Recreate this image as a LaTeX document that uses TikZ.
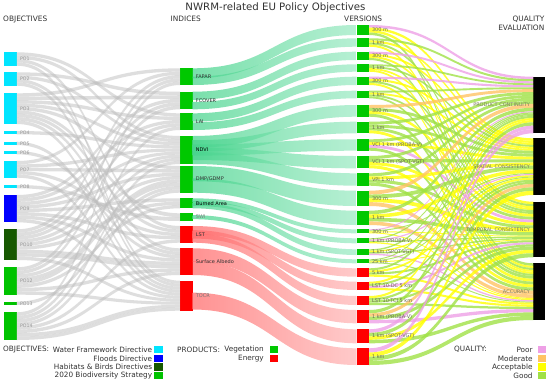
\documentclass[tikz,border=0pt]{standalone}
\usepackage{fontspec}
\setmainfont{DejaVu Sans}
\usetikzlibrary{calc}
\definecolor{wfd}{RGB}{0,229,255}
\definecolor{fdc}{RGB}{0,0,255}
\definecolor{hbd}{RGB}{22,88,0}
\definecolor{bds}{RGB}{0,195,0}
\definecolor{veg}{RGB}{0,200,0}
\definecolor{ene}{RGB}{255,0,0}
\definecolor{qpoor}{RGB}{238,160,230}
\definecolor{qmod}{RGB}{255,195,100}
\definecolor{qacc}{RGB}{255,255,0}
\definecolor{qgood}{RGB}{160,225,70}
\definecolor{mintd}{RGB}{70,212,140}
\definecolor{mintl}{RGB}{155,234,195}
\definecolor{redd}{RGB}{255,105,105}
\definecolor{redl}{RGB}{255,182,182}
\definecolor{graylk}{RGB}{190,190,190}
\definecolor{txtd}{RGB}{50,50,50}
\definecolor{txtv}{RGB}{105,105,85}
\definecolor{txtq}{RGB}{125,125,95}

\tikzset{
  bar/.style={rectangle, inner sep=0pt, outer sep=0pt, minimum width=12.6pt, anchor=north west, draw=none},
  lbl/.style={font=\fontsize{5}{6}\selectfont, inner sep=0pt, outer sep=0pt},
  hdr/.style={font=\fontsize{7.4}{8.5}\selectfont, text=txtd, inner sep=0pt},
  lgt/.style={font=\fontsize{7.3}{8.5}\selectfont, text=txtd, inner sep=0pt},
  lgbox/.style={rectangle, inner sep=0pt, minimum width=8.4pt, minimum height=7.3pt},
  graylink/.style={fill=graylk, fill opacity=0.5},
  mintlink/.style={left color=mintd, right color=mintl, fill opacity=0.72},
  redlink/.style={left color=redd, right color=redl, fill opacity=0.72},
  qP/.style={fill=qpoor, fill opacity=0.8},
  qM/.style={fill=qmod, fill opacity=0.8},
  qA/.style={fill=qacc, fill opacity=0.8},
  qG/.style={fill=qgood, fill opacity=0.8},
}

% band between two nodes: src, frac top, frac bottom, tgt, frac top, frac bottom, style
\newcommand\band[7]{%
  \path ($(#1.north east)!#2!(#1.south east)$) coordinate (bAa)
        ($(#1.north east)!#3!(#1.south east)$) coordinate (bAb)
        ($(#4.north west)!#5!(#4.south west)$) coordinate (bBa)
        ($(#4.north west)!#6!(#4.south west)$) coordinate (bBb)
        ($(bAa)!0.5!(bBa)$) coordinate (bM);
  \path[#7] (bAa) .. controls (bM |- bAa) and (bM |- bBa) .. (bBa)
     -- (bBb) .. controls (bM |- bBb) and (bM |- bAb) .. (bAb) -- cycle;
}
\newcommand\setcnt[2]{\expandafter\xdef\csname n@#1\endcsname{#2}\expandafter\xdef\csname k@#1\endcsname{0}}
\newcommand\glink[2]{%
  \edef\ks{\csname k@#1\endcsname}\edef\ns{\csname n@#1\endcsname}%
  \edef\kt{\csname k@#2\endcsname}\edef\nt{\csname n@#2\endcsname}%
  \pgfmathsetmacro\fsa{\ks/\ns}\pgfmathsetmacro\fsb{(\ks+1)/\ns}%
  \pgfmathsetmacro\fta{\kt/\nt}\pgfmathsetmacro\ftb{(\kt+1)/\nt}%
  \band{#1}{\fsa}{\fsb}{#2}{\fta}{\ftb}{graylink}%
  \expandafter\xdef\csname k@#1\endcsname{\the\numexpr\ks+1\relax}%
  \expandafter\xdef\csname k@#2\endcsname{\the\numexpr\kt+1\relax}%
}
\gdef\qcum{0}
\newcommand\vq[6]{%
  \pgfmathsetmacro\qa{\qcum/227.4}\pgfmathsetmacro\qb{(\qcum+#2)/227.4}%
  \band{v#1}{0}{0.25}{pc}{\qa}{\qb}{q#3}%
  \band{v#1}{0.25}{0.5}{sc}{\qa}{\qb}{q#4}%
  \band{v#1}{0.5}{0.75}{tc}{\qa}{\qb}{q#5}%
  \band{v#1}{0.75}{1}{acc}{\qa}{\qb}{q#6}%
  \pgfmathsetmacro\qtmp{\qcum+#2}\xdef\qcum{\qtmp}%
}

\begin{document}
\begin{tikzpicture}[x=1pt,y=-1pt]
\useasboundingbox (0,0) rectangle (550,384);
\fill[white] (0,0) rectangle (550,384);

% ---------- objectives bars
\node[bar, fill=wfd, minimum height=13.4pt] (po1) at (4,52.3) {};
\node[bar, fill=wfd, minimum height=13.4pt] (po2) at (4,72.3) {};
\node[bar, fill=wfd, minimum height=30.7pt] (po3) at (4,93.3) {};
\node[bar, fill=wfd, minimum height=3.3pt] (po4) at (4,131) {};
\node[bar, fill=wfd, minimum height=3.3pt] (po5) at (4,141.7) {};
\node[bar, fill=wfd, minimum height=3.3pt] (po6) at (4,151) {};
\node[bar, fill=wfd, minimum height=16.7pt] (po7) at (4,161) {};
\node[bar, fill=wfd, minimum height=3.3pt] (po8) at (4,185) {};
\node[bar, fill=fdc, minimum height=27.3pt] (po9) at (4,195) {};
\node[bar, fill=hbd, minimum height=30.7pt] (po10) at (4,229.3) {};
\node[bar, fill=bds, minimum height=27.4pt] (po12) at (4,267.3) {};
\node[bar, fill=bds, minimum height=3.3pt] (po13) at (4,301.7) {};
\node[bar, fill=bds, minimum height=27.7pt] (po14) at (4,312.3) {};

% ---------- indices bars
\node[bar, fill=veg, minimum height=16.7pt] (fapar) at (180,68.3) {};
\node[bar, fill=veg, minimum height=17.6pt] (fcover) at (180,91.7) {};
\node[bar, fill=veg, minimum height=16.7pt] (lai) at (180,113.3) {};
\node[bar, fill=veg, minimum height=28pt] (ndvi) at (180,136) {};
\node[bar, fill=veg, minimum height=26.7pt] (dmp) at (180,166) {};
\node[bar, fill=veg, minimum height=10pt] (ba) at (180,198.3) {};
\node[bar, fill=veg, minimum height=7.7pt] (swi) at (180,213.3) {};
\node[bar, fill=ene, minimum height=16.7pt] (lst) at (180,226) {};
\node[bar, fill=ene, minimum height=26.7pt] (alb) at (180,248.3) {};
\node[bar, fill=ene, minimum height=30pt] (tocr) at (180,280.7) {};

% ---------- versions bars
\foreach \n/\t/\h/\c in {1/25/10/veg, 2/38.3/8.4/veg, 3/51.7/8.3/veg, 4/64.3/7.4/veg,
  5/76.7/8.3/veg, 6/90.7/7.6/veg, 7/105/11.7/veg, 8/121.7/11.6/veg, 9/139.3/11.4/veg,
  10/156/12.3/veg, 11/173.3/12.4/veg, 12/190.7/15.3/veg, 13/210.7/14.3/veg,
  14/229.3/4/veg, 15/238.3/5/veg, 16/249.3/5.7/veg, 17/259.3/4/veg,
  18/268.3/8.4/ene, 19/281.7/8.3/ene, 20/296/9/ene, 21/310/13.3/ene,
  22/329.3/14/ene, 23/348.3/16.7/ene}
  \node[bar, fill=\c, minimum width=12.3pt, minimum height=\h pt] (v\n) at (356.7,\t) {};

% ---------- quality bars
\node[bar, fill=black, minimum width=11.7pt, minimum height=56.6pt] (pc) at (533.3,76.7) {};
\node[bar, fill=black, minimum width=11.7pt, minimum height=56.7pt] (sc) at (533.3,138.3) {};
\node[bar, fill=black, minimum width=11.7pt, minimum height=55.6pt] (tc) at (533.3,201.7) {};
\node[bar, fill=black, minimum width=11.7pt, minimum height=56.7pt] (acc) at (533.3,263.3) {};

% ---------- objective -> index links
\setcnt{po1}{4}\setcnt{po2}{4}\setcnt{po3}{9}\setcnt{po4}{1}\setcnt{po5}{1}
\setcnt{po6}{1}\setcnt{po7}{5}\setcnt{po8}{1}\setcnt{po9}{8}\setcnt{po10}{9}
\setcnt{po12}{8}\setcnt{po13}{1}\setcnt{po14}{8}
\setcnt{fapar}{5}\setcnt{fcover}{5}\setcnt{lai}{5}\setcnt{ndvi}{9}\setcnt{dmp}{8}
\setcnt{ba}{3}\setcnt{swi}{2}\setcnt{lst}{5}\setcnt{alb}{8}\setcnt{tocr}{10}
\foreach \t in {lai,ndvi,lst,tocr}{\glink{po1}{\t}}
\foreach \t in {fcover,ndvi,alb,tocr}{\glink{po2}{\t}}
\foreach \t in {fapar,fcover,lai,ndvi,dmp,swi,lst,alb,tocr}{\glink{po3}{\t}}
\glink{po4}{ndvi}
\glink{po5}{tocr}
\glink{po6}{alb}
\foreach \t in {fapar,ndvi,dmp,lst,tocr}{\glink{po7}{\t}}
\glink{po8}{swi}
\foreach \t in {fcover,lai,ndvi,dmp,ba,lst,alb,tocr}{\glink{po9}{\t}}
\foreach \t in {fapar,fcover,lai,ndvi,dmp,ba,alb,alb,tocr}{\glink{po10}{\t}}
\foreach \t in {fapar,fcover,ndvi,dmp,dmp,ba,alb,tocr}{\glink{po12}{\t}}
\glink{po13}{dmp}
\foreach \t in {fapar,lai,ndvi,dmp,lst,alb,tocr,tocr}{\glink{po14}{\t}}

% ---------- index -> version links
\band{fapar}{0}{0.6}{v1}{0}{1}{mintlink}
\band{fapar}{0.5}{1}{v2}{0}{1}{mintlink}
\band{fcover}{0}{0.47}{v3}{0}{1}{mintlink}
\band{fcover}{0.58}{1}{v4}{0}{1}{mintlink}
\band{lai}{0}{0.5}{v5}{0}{1}{mintlink}
\band{lai}{0.54}{1}{v6}{0}{1}{mintlink}
\band{ndvi}{0}{0.42}{v7}{0}{1}{mintlink}
\band{ndvi}{0.15}{0.56}{v8}{0}{1}{mintlink}
\band{ndvi}{0.30}{0.70}{v9}{0}{1}{mintlink}
\band{ndvi}{0.42}{0.86}{v10}{0}{1}{mintlink}
\band{ndvi}{0.57}{1}{v11}{0}{1}{mintlink}
\band{dmp}{0}{0.57}{v12}{0}{1}{mintlink}
\band{dmp}{0.46}{1}{v13}{0}{1}{mintlink}
\band{ba}{0}{0.4}{v14}{0}{1}{mintlink}
\band{ba}{0.25}{0.75}{v15}{0}{1}{mintlink}
\band{ba}{0.43}{1}{v16}{0}{1}{mintlink}
\band{swi}{0.24}{0.76}{v17}{0}{1}{mintlink}
\band{lst}{0}{0.5}{v18}{0}{1}{redlink}
\band{lst}{0.25}{0.75}{v19}{0}{1}{redlink}
\band{lst}{0.46}{1}{v20}{0}{1}{redlink}
\band{alb}{0}{0.5}{v21}{0}{1}{redlink}
\band{alb}{0.48}{1}{v22}{0}{1}{redlink}
\band{tocr}{0.4}{0.96}{v23}{0}{1}{redlink}

% ---------- version -> quality links
\vq{1}{10}{P}{A}{A}{G}
\vq{2}{8.4}{G}{A}{G}{A}
\vq{3}{8.3}{P}{A}{A}{G}
\vq{4}{7.4}{G}{G}{A}{A}
\vq{5}{8.3}{P}{A}{G}{A}
\vq{6}{7.6}{G}{A}{G}{G}
\vq{7}{11.7}{M}{G}{A}{G}
\vq{8}{11.6}{G}{G}{G}{A}
\vq{9}{11.4}{G}{A}{P}{G}
\vq{10}{12.3}{G}{G}{A}{A}
\vq{11}{12.4}{G}{A}{G}{G}
\vq{12}{15.3}{M}{G}{A}{M}
\vq{13}{14.3}{G}{A}{G}{M}
\vq{14}{4}{P}{G}{A}{A}
\vq{15}{5}{G}{P}{G}{A}
\vq{16}{5.7}{G}{A}{G}{P}
\vq{17}{4}{G}{G}{A}{G}
\vq{18}{8.4}{G}{A}{G}{A}
\vq{19}{8.3}{A}{G}{P}{A}
\vq{20}{9}{A}{G}{G}{G}
\vq{21}{13.3}{G}{M}{G}{P}
\vq{22}{14}{P}{G}{A}{G}
\vq{23}{16.7}{P}{A}{G}{G}

% ---------- labels
\foreach \n/\s in {1/PO1,2/PO2,3/PO3,4/PO4,5/PO5,6/PO6,7/PO7,8/PO8,9/PO9,10/PO10,12/PO12,13/PO13,14/PO14}
  \node[lbl, anchor=west, text=gray!80, font=\fontsize{4.7}{5.5}\selectfont] (pol\n) at ([xshift=3.4pt]po\n.east) {\s};

\node[lbl, anchor=west, text=txtd] (faparl) at ([xshift=3.3pt]fapar.east) {FAPAR};
\node[lbl, anchor=west, text=txtd] (fcoverl) at ([xshift=3.3pt]fcover.east) {FCOVER};
\node[lbl, anchor=west, text=txtd] (lail) at ([xshift=3.3pt]lai.east) {LAI};
\node[lbl, anchor=west, text=black] (ndvil) at ([xshift=3.3pt]ndvi.east) {NDVI};
\node[lbl, anchor=west, text=txtd] (dmpl) at ([xshift=3.3pt]dmp.east) {DMP/GDMP};
\node[lbl, anchor=west, text=black] (bal) at ([xshift=3.3pt]ba.east) {Burned Area};
\node[lbl, anchor=west, text=gray] (swil) at ([xshift=3.3pt]swi.east) {SWI};
\node[lbl, anchor=west, text=txtd] (lstl) at ([xshift=3.3pt]lst.east) {LST};
\node[lbl, anchor=west, text=txtd] (albl) at ([xshift=3.3pt]alb.east) {Surface Albedo};
\node[lbl, anchor=west, text=gray!90!black] (tocrl) at ([xshift=3.3pt]tocr.east) {TOCR};

\foreach \n/\s in {1/300 m,2/1 km,3/300 m,4/1 km,5/300 m,6/1 km,7/300 m,8/1 km,
  9/VCI 1 km (PROBA-V),10/VCI 1 km (SPOT-VGT),11/VPI 1 km,12/300 m,13/1 km,14/300 m,
  15/1 km (PROBA-V),16/1 km (SPOT-VGT),17/25 km,18/5 km,19/LST 10-DC 5 km,
  20/LST 10-TCI 5 km,21/1 km (PROBA-V),22/1 km (SPOT-VGT),23/1 km}
  \node[lbl, anchor=west, text=txtv] (vl\n) at ([xshift=3pt]v\n.east) {\s};

\node[lbl, anchor=east, text=txtq] (pcl) at ([xshift=-3.3pt]pc.west) {PRODUCT CONTINUITY};
\node[lbl, anchor=east, text=txtq] (scl) at ([xshift=-3.3pt]sc.west) {SPATIAL CONSISTENCY};
\node[lbl, anchor=east, text=txtq] (tcl) at ([xshift=-3.3pt]tc.west) {TEMPORAL CONSISTENCY};
\node[lbl, anchor=east, text=txtq] (accl) at ([xshift=-3.3pt]acc.west) {ACCURACY};

% ---------- headers
\node[font=\fontsize{10.2}{12}\selectfont, text=txtd, inner sep=0pt] (title) at (275.5,7.5) {NWRM-related EU Policy Objectives};
\node[hdr, anchor=west] (hobj) at (3,19.3) {OBJECTIVES};
\node[hdr, anchor=west] (hind) at (170.5,19.3) {INDICES};
\node[hdr, anchor=west] (hver) at (344,19.3) {VERSIONS};
\node[hdr, anchor=east] (hq1) at (544.5,19.3) {QUALITY};
\node[hdr, anchor=east] (hq2) at (544.5,28.3) {EVALUATION};

% ---------- legends
\node[lgt, anchor=west] (lgo) at (3,349.6) {OBJECTIVES:};
\node[lgt, anchor=east] (lgo1) at (152.3,349.6) {Water Framework Directive};
\node[lgt, anchor=east] (lgo2) at (152.3,358.3) {Floods Directive};
\node[lgt, anchor=east] (lgo3) at (152.3,367) {Habitats \& Birds Directives};
\node[lgt, anchor=east] (lgo4) at (152.3,375.8) {2020 Biodiversity Strategy};
\node[lgbox, fill=wfd] (lbo1) at (158.5,349.6) {};
\node[lgbox, fill=fdc] (lbo2) at (158.5,358.3) {};
\node[lgbox, fill=hbd] (lbo3) at (158.5,367) {};
\node[lgbox, fill=bds] (lbo4) at (158.5,375.8) {};

\node[lgt, anchor=west] (lgp) at (177,349.6) {PRODUCTS:};
\node[lgt, anchor=east] (lgp1) at (264,349.6) {Vegetation};
\node[lgt, anchor=east] (lgp2) at (264,358.3) {Energy};
\node[lgbox, fill=veg] (lbp1) at (274.2,349.6) {};
\node[lgbox, fill=ene] (lbp2) at (274.2,358.3) {};

\node[lgt, anchor=west] (lgq) at (454,349.6) {QUALITY:};
\node[lgt, anchor=east] (lgq1) at (532.8,349.6) {Poor};
\node[lgt, anchor=east] (lgq2) at (532.8,358.3) {Moderate};
\node[lgt, anchor=east] (lgq3) at (532.8,367) {Acceptable};
\node[lgt, anchor=east] (lgq4) at (532.8,375.8) {Good};
\node[lgbox, fill=qpoor] (lbq1) at (542,349.6) {};
\node[lgbox, fill=qmod] (lbq2) at (542,358.3) {};
\node[lgbox, fill=qacc] (lbq3) at (542,367) {};
\node[lgbox, fill=qgood] (lbq4) at (542,375.8) {};
\end{tikzpicture}
\end{document}
